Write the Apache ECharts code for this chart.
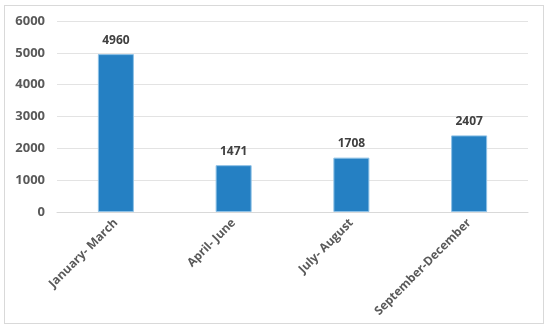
<!DOCTYPE html>
<html>
<head>
<meta charset="utf-8">
<script src="https://cdn.jsdelivr.net/npm/echarts@6/dist/echarts.min.js"></script>
<style>
  html, body { margin: 0; padding: 0; background: #fff; }
  #frame { position: absolute; left: 4px; top: 5px; width: 540px; height: 319px; border: 1px solid #d9d9d9; box-sizing: border-box; }
  #main { width: 550px; height: 331px; position: absolute; left: 0; top: 0; }
</style>
</head>
<body>
<div id="frame"></div>
<div id="main"></div>
<script>
const categories = ['January- March', 'April- June', 'July- August', 'September-December'];
const values = [4960, 1471, 1708, 2407];
const yTicks = [0, 1000, 2000, 3000, 4000, 5000, 6000];

const chart = echarts.init(document.getElementById('main'));
chart.setOption({
  animation: false,
  grid: { left: 57, right: 22, top: 21, bottom: 119, containLabel: false },
  xAxis: {
    type: 'category',
    data: categories,
    axisLine: { lineStyle: { color: '#d9d9d9' } },
    axisTick: { show: false },
    axisLabel: {
      rotate: 45,
      interval: 0,
      margin: 9,
      color: '#595959',
      fontFamily: 'Open Sans',
      fontWeight: 'bold',
      fontSize: 12
    }
  },
  yAxis: {
    type: 'value',
    min: yTicks[0],
    max: yTicks[yTicks.length - 1],
    interval: 1000,
    axisLine: { show: false },
    axisTick: { show: false },
    splitLine: { lineStyle: { color: '#e3e3e3' } },
    axisLabel: {
      margin: 12,
      color: '#595959',
      fontFamily: 'Open Sans',
      fontWeight: 'bold',
      fontSize: 13,
      formatter: v => String(v)
    }
  },
  series: [{
    type: 'bar',
    data: values,
    barWidth: 36,
    itemStyle: { color: '#2580c3', borderColor: '#8ec1e6', borderWidth: 1 },
    label: {
      show: true,
      position: 'top',
      distance: 8,
      color: '#404040',
      fontFamily: 'Open Sans',
      fontWeight: 'bold',
      fontSize: 12
    }
  }]
});
</script>
</body>
</html>
